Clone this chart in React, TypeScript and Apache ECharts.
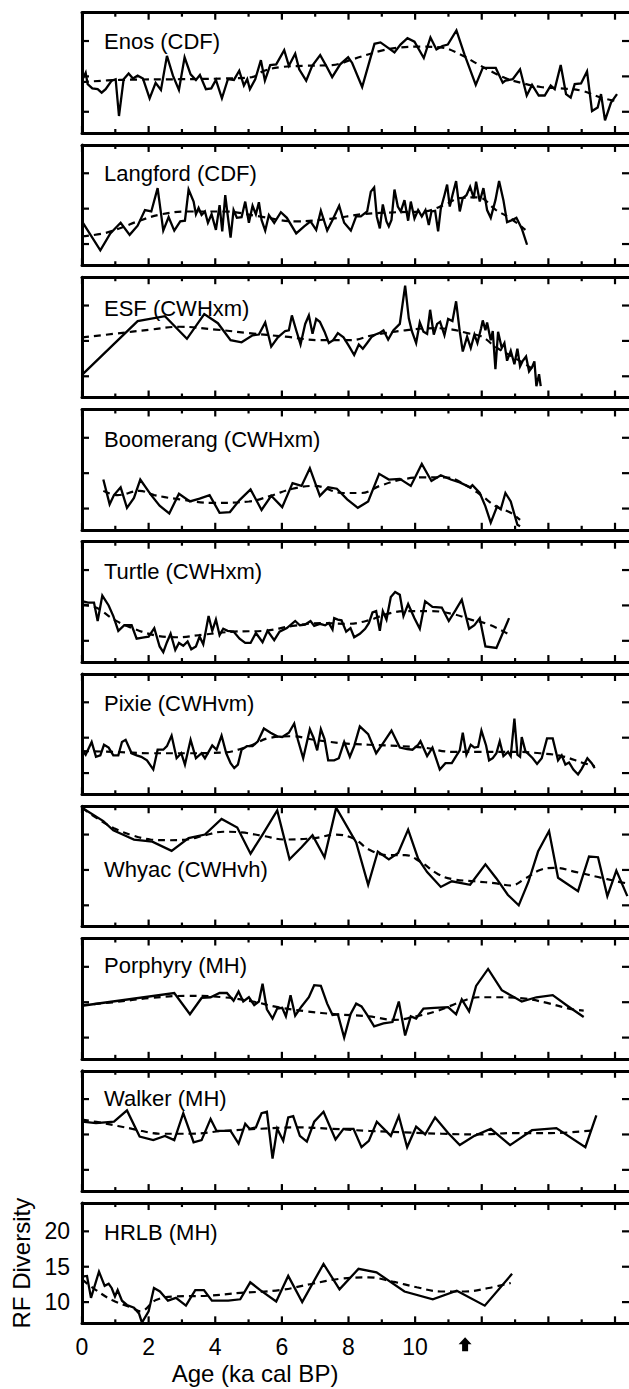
import React, { useEffect, useRef } from "react";
import * as echarts from "echarts";

// ---------- DATA (age in ka cal BP, RF diversity) ----------
const panelNames = [
  "Enos (CDF)",
  "Langford (CDF)",
  "ESF (CWHxm)",
  "Boomerang (CWHxm)",
  "Turtle (CWHxm)",
  "Pixie (CWHvm)",
  "Whyac (CWHvh)",
  "Porphyry (MH)",
  "Walker (MH)",
  "HRLB (MH)",
];

const xMajorTicks = [0, 2, 4, 6, 8, 10, 12, 14, 16];
const xMinorTicks = [1, 3, 5, 7, 9, 11, 13, 15];
const xTickLabels = [0, 2, 4, 6, 8, 10];
const yTickValues = [10, 15, 20];
const arrowAge = 11.5;

const enosRaw = [[0,14.4],[0.11,15.5],[0.17,13.9],[0.31,13.3],[0.47,13.2],[0.59,12.7],[0.71,13.2],[0.89,14.4],[1.01,14.6],[1.11,9.4],[1.25,14.6],[1.4,15.4],[1.53,14.7],[1.67,15.1],[1.83,14.7],[2.03,11.9],[2.21,14.1],[2.37,13.1],[2.55,17.9],[2.73,15.1],[2.91,13.1],[3.08,17.7],[3.26,15.3],[3.42,14.5],[3.54,15.2],[3.72,13.2],[3.88,13.3],[4.02,14.5],[4.2,11.9],[4.38,14.6],[4.56,14.5],[4.72,15.8],[4.86,13.7],[4.96,14.6],[5.04,13.2],[5.2,14.6],[5.37,17.3],[5.49,14.4],[5.65,16.6],[5.83,16.7],[6.07,18.7],[6.21,16.5],[6.4,18.2],[6.52,16.0],[6.73,14.4],[6.91,16.5],[7.15,18.0],[7.33,16.5],[7.51,14.9],[7.75,16.7],[7.99,17.7],[8.11,16.9],[8.41,13.5],[8.78,19.6],[8.96,19.8],[9.17,19.1],[9.38,18.4],[9.56,19.5],[9.77,20.4],[9.98,19.9],[10.26,17.6],[10.46,20.5],[10.64,18.8],[10.82,19.3],[10.98,19.5],[11.24,21.5],[11.48,18.1],[11.82,13.8],[12.03,16.2],[12.23,16.2],[12.42,16.2],[12.63,14.1],[12.71,14.4],[12.93,14.6],[13.15,16.0],[13.35,12.3],[13.51,13.8],[13.71,12.3],[13.89,12.3],[14.07,13.7],[14.19,13.2],[14.37,16.6],[14.53,12.5],[14.67,12.0],[14.79,13.9],[14.98,14.0],[15.16,15.7],[15.31,10.1],[15.48,10.6],[15.58,12.5],[15.7,8.8],[15.88,11.3],[16.06,12.5]];
const enosTrend = [[0,14.2],[1.13,14.5],[2.94,14.6],[4.26,14.7],[5.1,14.9],[5.47,15.8],[5.95,16.3],[6.67,16.5],[7.51,16.6],[8.11,17.4],[8.96,18.6],[9.56,19.1],[10.16,19.2],[10.76,19.1],[11.36,18.1],[11.97,16.5],[12.69,14.8],[13.17,14.1],[13.77,13.5],[14.37,13.3],[14.98,13.0],[15.58,12.0],[16.06,11.5]];

const langfordRaw = [[0,13.2],[0.55,9.1],[0.85,11.5],[1.16,13.0],[1.43,11.3],[1.67,12.6],[1.89,14.8],[2.08,14.6],[2.27,17.9],[2.44,11.9],[2.6,13.8],[2.77,11.9],[2.95,13.2],[3.09,13.3],[3.2,17.7],[3.35,16.0],[3.42,14.2],[3.5,15.1],[3.59,14.1],[3.69,14.6],[3.78,13.0],[3.89,14.2],[4.02,12.0],[4.13,15.5],[4.21,11.8],[4.3,16.9],[4.37,14.2],[4.46,10.9],[4.55,14.8],[4.65,13.7],[4.79,13.8],[4.9,16.0],[5.01,13.0],[5.12,15.4],[5.22,14.2],[5.31,15.9],[5.39,13.4],[5.5,11.9],[5.61,14.1],[5.77,13.0],[5.97,14.5],[6.15,13.7],[6.43,11.5],[6.67,12.5],[6.86,13.2],[7.03,12.0],[7.17,14.7],[7.36,11.9],[7.52,13.4],[7.72,15.4],[7.87,13.0],[8.07,11.9],[8.23,13.9],[8.37,13.9],[8.56,14.6],[8.67,17.4],[8.77,18.0],[8.85,13.9],[8.94,12.2],[9.03,15.6],[9.14,13.2],[9.21,12.5],[9.29,13.4],[9.38,17.7],[9.48,15.3],[9.57,14.6],[9.68,16.2],[9.79,13.3],[9.87,16.0],[9.98,13.6],[10.09,14.8],[10.2,13.9],[10.31,14.8],[10.41,12.7],[10.49,14.6],[10.6,14.7],[10.69,11.8],[10.77,15.0],[10.88,16.9],[10.96,18.4],[11.04,15.3],[11.12,16.9],[11.23,18.9],[11.34,14.6],[11.43,16.5],[11.54,16.9],[11.65,18.1],[11.76,16.5],[11.83,18.8],[11.94,16.0],[12.05,17.9],[12.16,14.8],[12.27,13.7],[12.41,16.2],[12.52,18.9],[12.65,16.2],[12.76,13.1],[12.87,13.3],[13.04,13.7],[13.2,12.2],[13.36,9.9]];
const langfordTrend = [[0,11.1],[0.64,11.5],[1.18,12.3],[1.73,13.3],[2.38,14.2],[3.15,14.6],[4.24,14.6],[5.33,13.9],[6.43,13.2],[7.52,13.6],[8.39,14.2],[9.48,14.5],[10.25,14.6],[10.91,15.6],[11.34,16.5],[11.89,16.6],[12.43,14.8],[12.87,13.6],[13.31,12.0]];

const esfRaw = [[0,10.2],[1.67,17.8],[2.49,18.5],[3.15,15.3],[3.67,18.8],[4.08,17.5],[4.46,15.1],[4.79,14.8],[5.12,15.8],[5.31,15.9],[5.5,17.6],[5.68,14.2],[5.88,15.5],[6.1,16.4],[6.21,16.5],[6.3,18.6],[6.43,16.5],[6.56,14.5],[6.7,17.4],[6.81,18.6],[6.92,16.0],[7.03,18.1],[7.14,17.7],[7.28,16.3],[7.41,14.7],[7.54,15.1],[7.68,16.1],[7.85,15.5],[8.01,14.3],[8.17,13.0],[8.31,14.5],[8.43,13.9],[8.56,14.7],[8.7,15.6],[8.81,15.9],[8.92,16.1],[9.05,16.5],[9.19,15.2],[9.35,16.5],[9.54,17.4],[9.7,22.8],[9.81,18.2],[9.9,16.4],[10.03,14.7],[10.14,17.6],[10.25,16.3],[10.36,16.0],[10.45,19.4],[10.56,15.9],[10.66,17.4],[10.75,17.7],[10.88,15.8],[10.99,18.1],[11.12,17.8],[11.23,20.6],[11.34,16.3],[11.43,13.5],[11.56,15.6],[11.67,14.0],[11.78,15.9],[11.87,14.7],[11.98,16.8],[12.03,17.9],[12.11,16.5],[12.16,17.6],[12.27,15.1],[12.33,16.4],[12.41,11.0],[12.49,16.3],[12.6,14.0],[12.68,14.7],[12.76,12.2],[12.87,13.6],[12.98,11.7],[13.07,13.9],[13.15,11.4],[13.22,12.1],[13.33,12.8],[13.42,10.7],[13.51,11.3],[13.58,12.1],[13.64,8.6],[13.72,10.3],[13.77,8.6]];
const esfTrend = [[0,15.5],[0.96,16.0],[2.06,16.6],[2.93,17.0],[4.02,16.6],[5.01,16.1],[6.1,15.6],[7.19,15.1],[8.06,15.1],[8.72,15.8],[9.7,16.5],[10.58,16.8],[11.12,16.6],[11.56,16.1],[12.0,15.6],[12.43,14.1],[12.87,12.9],[13.31,11.7],[13.64,10.7]];

const boomerangRaw = [[0.64,14.1],[0.83,10.6],[0.96,11.9],[1.16,13.0],[1.35,10.1],[1.56,11.5],[1.75,14.1],[2.06,12.0],[2.33,10.4],[2.62,9.3],[2.91,12.1],[3.24,11.0],[3.53,11.4],[3.83,11.9],[4.13,9.4],[4.44,9.5],[4.73,11.2],[5.06,12.7],[5.39,9.8],[5.68,11.8],[6.01,10.2],[6.32,13.6],[6.59,13.2],[6.84,15.7],[7.14,11.8],[7.39,13.0],[7.65,12.8],[7.96,11.3],[8.28,10.1],[8.59,11.0],[8.92,14.9],[9.21,14.1],[9.54,14.2],[9.87,13.2],[10.2,16.3],[10.49,13.9],[10.77,14.7],[11.07,14.1],[11.34,13.7],[11.65,13.0],[11.72,13.3],[11.94,12.2],[12.11,10.3],[12.27,8.0],[12.46,10.3],[12.57,9.9],[12.71,12.2],[12.87,11.0],[13.07,7.7],[13.15,7.5]];
const boomerangTrend = [[0.64,12.5],[1.07,11.9],[1.73,12.5],[2.17,11.9],[2.93,11.3],[3.91,10.8],[5.01,11.0],[5.66,11.8],[6.32,12.8],[6.97,13.2],[7.85,12.2],[8.39,12.2],[8.94,13.2],[9.6,14.1],[10.25,14.4],[10.91,14.4],[11.56,13.2],[12.0,11.8],[12.43,10.3],[12.87,9.4],[13.15,8.4]];

const turtleRaw = [[0,15.6],[0.18,15.4],[0.36,15.4],[0.47,12.8],[0.61,16.4],[0.8,15.0],[0.94,13.5],[1.09,11.4],[1.27,12.2],[1.49,12.2],[1.64,10.3],[1.86,10.5],[2.0,10.6],[2.17,11.8],[2.33,9.2],[2.44,8.4],[2.55,9.8],[2.66,11.0],[2.8,8.7],[2.91,9.7],[3.04,9.3],[3.17,9.9],[3.28,8.8],[3.42,9.2],[3.53,10.6],[3.64,9.5],[3.8,13.5],[3.91,11.4],[4.02,13.0],[4.13,10.8],[4.24,11.7],[4.37,11.4],[4.55,11.3],[4.73,10.3],[4.9,9.7],[5.06,9.7],[5.22,11.1],[5.42,9.8],[5.57,11.4],[5.77,10.1],[5.93,11.3],[6.15,11.8],[6.4,12.8],[6.54,12.2],[6.7,12.3],[6.86,12.8],[6.97,12.1],[7.14,12.4],[7.3,12.2],[7.41,12.5],[7.52,11.6],[7.57,13.2],[7.68,13.0],[7.79,12.9],[7.93,11.3],[8.06,11.8],[8.17,10.5],[8.34,11.0],[8.5,11.7],[8.61,12.5],[8.72,14.0],[8.83,14.2],[8.94,11.4],[9.03,14.2],[9.14,13.0],[9.27,16.2],[9.4,16.9],[9.54,16.5],[9.65,13.5],[9.79,15.2],[9.98,13.2],[10.14,11.7],[10.3,15.6],[10.52,14.8],[10.8,14.7],[11.01,12.8],[11.21,14.3],[11.4,15.8],[11.62,11.7],[11.78,12.2],[11.94,13.2],[12.11,9.2],[12.44,9.0],[12.82,13.2]];
const turtleTrend = [[0,15.1],[0.42,14.7],[0.96,13.0],[1.51,11.8],[2.17,10.8],[2.82,10.5],[3.69,10.9],[4.57,11.3],[5.44,11.4],[6.32,12.1],[7.19,12.5],[7.95,12.4],[8.61,12.9],[9.16,13.8],[9.7,14.2],[10.47,14.2],[11.12,13.8],[11.67,13.0],[12.22,12.3],[12.82,10.9]];

const pixieRaw = [[0,13.3],[0.11,12.6],[0.29,14.4],[0.42,12.3],[0.55,12.5],[0.66,14.0],[0.8,13.6],[0.94,12.5],[1.09,12.5],[1.2,14.4],[1.31,14.7],[1.49,12.8],[1.64,12.5],[1.78,12.3],[1.95,11.8],[2.14,10.5],[2.27,13.3],[2.44,13.3],[2.55,13.8],[2.69,15.3],[2.84,12.1],[2.98,12.8],[3.09,11.2],[3.26,14.7],[3.42,12.1],[3.59,12.8],[3.69,12.1],[3.91,13.9],[4.04,13.3],[4.19,15.3],[4.33,12.8],[4.46,11.4],[4.57,10.7],[4.68,11.2],[4.79,13.3],[4.95,13.8],[5.12,13.8],[5.28,14.5],[5.46,16.3],[5.66,15.7],[5.86,15.2],[6.01,15.1],[6.21,15.7],[6.37,17.0],[6.48,14.7],[6.64,12.1],[6.84,16.2],[6.95,15.0],[7.06,13.2],[7.17,16.2],[7.28,14.8],[7.39,11.8],[7.57,11.8],[7.71,12.1],[7.87,14.4],[8.04,12.3],[8.17,13.8],[8.34,16.6],[8.59,15.5],[8.83,12.8],[9.05,14.3],[9.29,16.0],[9.54,13.6],[9.76,13.4],[9.92,13.3],[10.09,14.0],[10.16,14.5],[10.36,12.4],[10.52,13.6],[10.74,10.5],[10.91,11.4],[11.1,11.4],[11.23,12.4],[11.34,13.2],[11.43,15.7],[11.54,12.6],[11.67,14.0],[11.78,13.6],[11.89,13.7],[11.99,16.0],[12.13,13.9],[12.22,11.8],[12.33,12.1],[12.44,12.8],[12.54,14.5],[12.65,12.4],[12.79,13.0],[12.87,12.4],[12.98,17.7],[13.07,12.6],[13.15,12.3],[13.2,15.1],[13.31,13.1],[13.42,12.6],[13.53,12.1],[13.66,11.3],[13.8,12.1],[13.96,14.9],[14.13,14.9],[14.29,11.8],[14.4,12.5],[14.51,11.2],[14.62,11.5],[14.75,10.5],[14.89,9.8],[15.0,10.6],[15.17,12.1],[15.3,11.4],[15.39,10.7]];
const pixieTrend = [[0,13.1],[0.96,13.0],[2.06,12.8],[3.15,12.8],[4.24,12.9],[5.01,13.8],[5.66,15.0],[6.32,15.2],[6.97,14.7],[7.85,14.2],[8.61,14.0],[9.6,13.8],[10.25,13.6],[11.12,13.0],[11.89,13.0],[12.98,13.0],[13.75,12.8],[14.4,12.4],[15.06,11.4],[15.39,11.0]];

const whyacRaw = [[0,23.8],[0.64,21.9],[0.94,20.6],[1.27,19.9],[1.56,19.3],[2.11,19.0],[2.69,17.7],[3.2,19.5],[3.69,20.0],[4.19,22.2],[4.66,21.0],[5.06,17.3],[5.42,20.0],[5.86,23.4],[6.23,16.5],[6.59,18.2],[6.92,19.9],[7.28,16.8],[7.63,23.8],[8.23,18.9],[8.59,12.9],[8.88,17.6],[9.21,16.5],[9.49,17.4],[9.79,20.7],[10.09,16.6],[10.36,14.7],[10.77,12.6],[11.1,13.4],[11.65,12.9],[12.11,15.8],[12.44,13.8],[12.78,11.5],[13.11,10.0],[13.4,13.3],[13.69,17.6],[14.02,20.5],[14.29,13.9],[14.89,12.0],[15.22,16.9],[15.49,16.8],[15.77,11.3],[16.04,14.9],[16.37,11.3]];
const whyacTrend = [[0,23.8],[0.42,22.4],[0.96,20.9],[1.51,19.9],[2.06,19.3],[2.6,19.2],[3.15,19.3],[3.69,19.9],[4.24,20.4],[4.79,20.3],[5.44,19.8],[6.1,19.3],[6.97,19.5],[7.63,20.0],[8.17,19.4],[8.61,17.9],[9.16,17.1],[9.7,17.1],[10.14,16.2],[10.69,14.4],[11.12,13.7],[11.78,13.4],[12.44,13.1],[12.87,12.8],[13.31,13.8],[13.75,15.0],[14.18,15.3],[14.84,14.7],[15.49,14.0],[16.04,13.4],[16.37,13.1]];

const porphyryRaw = [[0,14.5],[2.77,16.3],[3.24,13.3],[3.59,15.6],[3.86,15.7],[4.13,16.3],[4.35,16.3],[4.55,15.2],[4.7,16.5],[4.84,15.1],[5.01,15.7],[5.17,14.6],[5.31,15.1],[5.42,17.6],[5.55,14.0],[5.72,12.7],[5.86,14.1],[6.01,14.2],[6.12,13.0],[6.26,16.0],[6.4,13.1],[6.59,14.4],[6.81,15.7],[6.97,17.4],[7.17,17.3],[7.36,14.8],[7.52,13.2],[7.68,13.3],[7.87,10.0],[8.06,13.3],[8.23,14.8],[8.39,14.4],[8.56,13.2],[8.77,11.6],[9.05,12.0],[9.32,12.2],[9.51,15.1],[9.7,10.3],[9.87,13.0],[10.03,12.7],[10.25,14.1],[10.58,14.2],[10.99,14.3],[11.23,13.3],[11.4,15.4],[11.62,13.7],[11.83,17.3],[12.19,19.7],[12.6,16.7],[13.2,15.1],[13.64,15.7],[14.13,16.0],[14.6,14.4],[15.06,12.9]];
const porphyryTrend = [[0,14.6],[0.96,15.0],[2.06,15.6],[3.15,15.9],[4.24,15.7],[5.12,15.1],[5.88,14.3],[6.75,13.7],[7.63,13.3],[8.61,13.0],[9.38,12.5],[10.03,13.0],[10.69,13.8],[11.34,15.0],[11.89,15.7],[12.65,15.7],[13.31,15.5],[13.96,14.9],[14.62,14.1],[15.06,13.8]];

const walkerRaw = [[0,16.8],[0.42,16.6],[0.96,16.8],[1.35,18.4],[1.73,14.7],[2.14,14.2],[2.49,14.8],[2.77,14.2],[3.04,18.0],[3.35,13.9],[3.59,14.2],[3.86,17.2],[4.04,15.5],[4.46,15.5],[4.7,13.7],[4.9,16.5],[5.03,15.8],[5.22,16.0],[5.39,18.0],[5.55,18.2],[5.72,11.6],[5.86,15.8],[6.04,14.1],[6.19,17.4],[6.34,17.6],[6.54,14.8],[6.75,14.0],[6.97,16.8],[7.25,18.2],[7.61,14.3],[7.85,15.8],[8.15,15.8],[8.39,13.2],[8.61,14.1],[8.85,16.8],[9.27,14.8],[9.51,17.6],[9.76,13.2],[10.03,16.1],[10.3,15.0],[10.6,17.4],[10.99,15.2],[11.34,13.5],[11.78,14.8],[12.27,15.8],[12.85,13.5],[13.51,15.6],[14.24,15.9],[15.11,13.2],[15.44,17.7]];
const walkerTrend = [[0,17.1],[0.64,16.6],[1.51,15.8],[2.38,15.1],[3.26,15.1],[4.24,15.5],[5.33,15.8],[6.43,16.0],[7.52,15.8],[8.61,15.5],[9.7,15.3],[10.8,15.1],[11.89,15.0],[12.98,15.2],[14.07,15.2],[15.39,15.6]];

const hrlbRaw = [[0,13.6],[0.15,13.7],[0.27,10.6],[0.51,14.3],[0.68,12.3],[0.8,12.6],[0.89,12.0],[0.99,10.8],[1.07,11.7],[1.2,10.2],[1.35,9.6],[1.56,9.2],[1.71,8.4],[1.8,7.1],[2.0,8.7],[2.16,12.0],[2.34,11.5],[2.58,10.2],[2.82,10.6],[3.12,9.5],[3.4,11.7],[3.66,11.7],[3.9,10.2],[4.39,10.2],[4.75,10.4],[5.05,12.8],[5.35,11.7],[5.83,10.1],[6.19,13.7],[6.61,10.0],[7.25,15.4],[7.73,11.8],[8.3,14.7],[8.84,14.2],[9.68,11.5],[10.53,10.4],[11.25,11.6],[12.09,9.5],[12.91,14.0]];
const hrlbTrend = [[0,13.2],[0.42,11.7],[0.9,10.3],[1.5,9.2],[1.76,8.7],[2.22,10.3],[2.82,10.8],[3.78,10.9],[4.75,11.3],[5.95,11.7],[6.91,12.6],[7.76,13.3],[8.6,13.5],[9.32,12.9],[10.05,12.1],[10.77,11.5],[11.49,11.5],[12.21,12.0],[12.87,12.7]];

const rawSeries = [enosRaw, langfordRaw, esfRaw, boomerangRaw, turtleRaw, pixieRaw, whyacRaw, porphyryRaw, walkerRaw, hrlbRaw];
const trendSeries = [enosTrend, langfordTrend, esfTrend, boomerangTrend, turtleTrend, pixieTrend, whyacTrend, porphyryTrend, walkerTrend, hrlbTrend];

// ---------- LAYOUT ----------
const W = 629;
const H = 1389;
const PANEL_TOP0 = 12.7;
const PANEL_STEP = 132.26;
const PANEL_H = 120.3;
const GRID_LEFT = 82;
const GRID_W = W - GRID_LEFT; // plot reaches the right edge of the canvas
const X_MIN = 0;
const X_MAX = 16.42;
const Y_MIN = 7;
const Y_MAX = 24;
const MAJOR_LEN = 7;
const MINOR_LEN = 4;
const Y_TICK_LEN = 7;
const TICK_W = 2.2;
const labelOffsets = [29, 29, 31, 30, 30, 29, 63, 27, 28, 29.5];
const FONT = "'Liberation Sans', Arial, Helvetica, sans-serif";

// tick-mark items: [x, y, kind]  kind 0 = x major, 1 = x minor, 2 = y tick
const tickItems: number[][] = [
  ...xMajorTicks.map((v) => [v, Y_MIN, 0]),
  ...xMinorTicks.map((v) => [v, Y_MIN, 1]),
  ...yTickValues.map((v) => [X_MIN, v, 2]),
];

export default function App() {
  const ref = useRef<HTMLDivElement>(null);

  useEffect(() => {
    if (!ref.current) return;
    const chart = echarts.init(ref.current, null, { renderer: "svg" });

    const n = panelNames.length;
    const grid: any[] = [];
    const xAxis: any[] = [];
    const yAxis: any[] = [];
    const series: any[] = [];
    const graphic: any[] = [];

    const frameLine = () => ({ show: true, onZero: false, lineStyle: { color: "#000", width: 3 } });
    const none = { show: false };
    const tickStroke = { stroke: "#000", lineWidth: TICK_W };

    const renderTicks = (params: any, api: any) => {
      const kind = api.value(2);
      if (kind === 2) {
        const v = api.value(1);
        const pl = api.coord([X_MIN, v]);
        const pr = api.coord([X_MAX, v]);
        return {
          type: "group",
          children: [
            { type: "line", shape: { x1: pl[0], y1: pl[1], x2: pl[0] + Y_TICK_LEN, y2: pl[1] }, style: tickStroke },
            { type: "line", shape: { x1: pr[0], y1: pr[1], x2: pr[0] - Y_TICK_LEN, y2: pr[1] }, style: tickStroke },
          ],
        };
      }
      const len = kind === 0 ? MAJOR_LEN : MINOR_LEN;
      const x = api.value(0);
      const pb = api.coord([x, Y_MIN]);
      const pt = api.coord([x, Y_MAX]);
      return {
        type: "group",
        children: [
          { type: "line", shape: { x1: pb[0], y1: pb[1], x2: pb[0], y2: pb[1] - len }, style: tickStroke },
          { type: "line", shape: { x1: pt[0], y1: pt[1], x2: pt[0], y2: pt[1] + len }, style: tickStroke },
        ],
      };
    };

    for (let i = 0; i < n; i++) {
      const top = PANEL_TOP0 + PANEL_STEP * i;
      const isLast = i === n - 1;
      grid.push({ left: GRID_LEFT, top, width: GRID_W, height: PANEL_H });

      // xAxis index 2*i = bottom, 2*i+1 = top; yAxis index i = left
      xAxis.push({
        gridIndex: i, type: "value", position: "bottom", min: X_MIN, max: X_MAX,
        axisLine: frameLine(), axisTick: none, splitLine: none,
        axisLabel: { show: isLast, customValues: xTickLabels, margin: 12, fontSize: 23, color: "#000", fontFamily: FONT },
      });
      xAxis.push({
        gridIndex: i, type: "value", position: "top", min: X_MIN, max: X_MAX,
        axisLine: frameLine(), axisTick: none, splitLine: none, axisLabel: none,
      });
      yAxis.push({
        gridIndex: i, type: "value", position: "left", min: Y_MIN, max: Y_MAX,
        axisLine: frameLine(), axisTick: none, splitLine: none,
        axisLabel: { show: isLast, customValues: yTickValues, margin: 12, fontSize: 23, color: "#000", fontFamily: FONT },
        name: isLast ? "RF Diversity" : "",
        nameLocation: "middle", nameRotate: 90, nameGap: 46,
        nameTextStyle: { fontSize: 24, color: "#000", fontFamily: FONT },
      });

      series.push({
        type: "line", name: panelNames[i], xAxisIndex: 2 * i, yAxisIndex: i,
        data: rawSeries[i], symbol: "none", showSymbol: false,
        lineStyle: { color: "#000", width: 2.3, join: "miter" },
      });
      series.push({
        type: "line", name: panelNames[i] + " trend", xAxisIndex: 2 * i, yAxisIndex: i,
        data: trendSeries[i], symbol: "none", showSymbol: false, smooth: 0.4,
        lineStyle: { color: "#000", width: 2.2, type: [7, 5] },
      });
      series.push({
        type: "custom", name: "ticks " + i, xAxisIndex: 2 * i, yAxisIndex: i,
        data: tickItems, renderItem: renderTicks, silent: true, clip: false,
        encode: { x: 0, y: 1 },
      });

      graphic.push({
        type: "text", left: 104, top: top + labelOffsets[i] - 12, z: 10,
        style: { text: panelNames[i], fontSize: 22, fill: "#000", fontFamily: FONT, lineHeight: 24 },
      });
    }

    // arrow marker under the last panel's age axis
    series.push({
      type: "custom", name: "arrow", xAxisIndex: 2 * (n - 1), yAxisIndex: n - 1,
      data: [[arrowAge, Y_MIN]], silent: true, clip: false, encode: { x: 0, y: 1 },
      renderItem: (params: any, api: any) => {
        const p = api.coord([api.value(0), api.value(1)]);
        const cx = p[0];
        const cy = p[1] + 21;
        return {
          type: "polygon",
          shape: {
            points: [
              [cx, cy - 7], [cx + 6.5, cy], [cx + 3, cy], [cx + 3, cy + 7],
              [cx - 3, cy + 7], [cx - 3, cy], [cx - 6.5, cy],
            ],
          },
          style: { fill: "#000" },
        };
      },
    });

    const baseY = PANEL_TOP0 + PANEL_STEP * (n - 1) + PANEL_H;
    graphic.push({
      type: "text", z: 10, x: 255, y: baseY + 50,
      style: { text: "Age (ka cal BP)", fontSize: 24, fill: "#000", fontFamily: FONT, align: "center", verticalAlign: "middle" },
    });

    chart.setOption({
      animation: false,
      backgroundColor: "#fff",
      grid, xAxis, yAxis, series, graphic,
    });

    return () => chart.dispose();
  }, []);

  return (
    <div
      ref={ref}
      style={{ position: "absolute", left: 0, top: 0, width: W, height: H, background: "#fff" }}
    />
  );
}
